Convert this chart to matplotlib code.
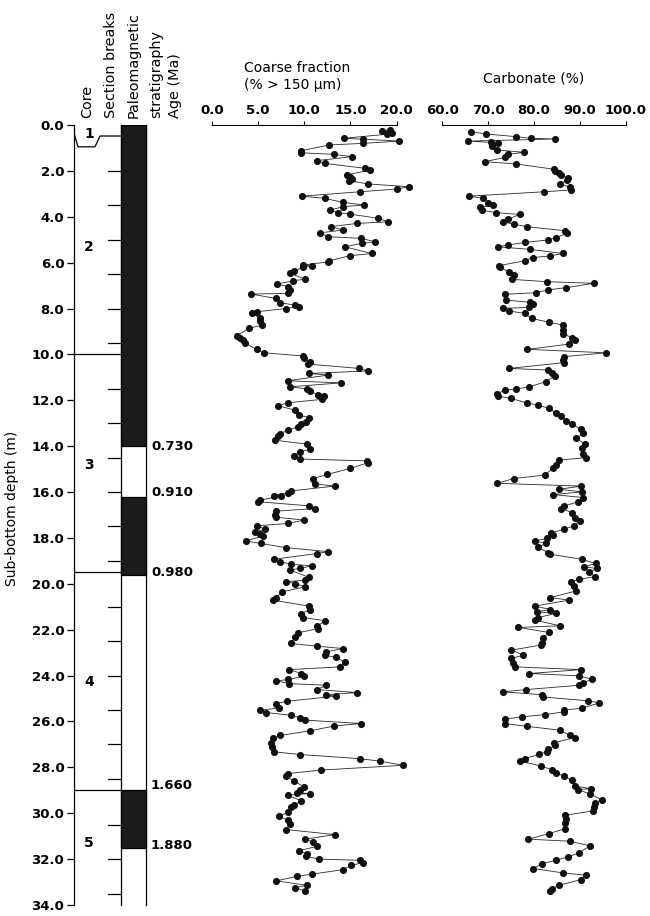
import matplotlib
matplotlib.use("Agg")
import matplotlib.pyplot as plt
from matplotlib.patches import Rectangle

# ---------------- data ----------------
coarse_depth = [0.22,0.28,0.33,0.40,0.58,0.62,0.70,0.80,0.87,1.12,1.21,1.28,1.38,1.55,1.67,1.89,1.96,2.18,2.25,2.35,2.42,2.57,2.69,2.79,2.91,3.10,3.20,3.37,3.49,3.56,3.71,3.82,3.88,4.07,4.22,4.29,4.43,4.58,4.70,4.87,4.94,5.09,5.16,5.31,5.60,5.70,5.92,5.97,6.10,6.15,6.20,6.37,6.47,6.72,6.79,6.93,7.05,7.20,7.34,7.37,7.56,7.75,7.85,7.92,8.00,8.14,8.21,8.43,8.53,8.72,8.87,9.19,9.30,9.37,9.52,9.78,9.93,10.07,10.17,10.32,10.42,10.61,10.72,10.83,10.90,11.15,11.24,11.41,11.51,11.59,11.77,11.82,11.96,12.11,12.24,12.43,12.65,12.75,12.94,13.04,13.15,13.30,13.45,13.56,13.74,13.91,14.14,14.24,14.43,14.56,14.64,14.72,14.97,15.23,15.41,15.65,15.74,15.95,16.03,16.15,16.18,16.35,16.42,16.60,16.72,16.83,17.00,17.10,17.22,17.37,17.47,17.62,17.73,17.83,17.92,18.13,18.24,18.42,18.60,18.68,18.93,19.04,19.14,19.22,19.33,19.40,19.72,19.84,19.91,19.99,20.13,20.35,20.60,20.71,20.97,21.12,21.30,21.47,21.61,21.84,21.95,22.14,22.31,22.60,22.72,22.82,22.96,23.11,23.21,23.40,23.62,23.74,23.91,24.03,24.17,24.23,24.35,24.42,24.61,24.74,24.83,24.90,25.12,25.22,25.41,25.51,25.61,25.73,25.83,25.94,26.09,26.20,26.41,26.61,26.74,26.93,27.10,27.32,27.44,27.62,27.73,27.91,28.12,28.27,28.39,28.59,28.86,29.00,29.11,29.14,29.21,29.46,29.65,29.72,29.94,30.13,30.31,30.45,30.71,30.93,31.13,31.25,31.44,31.64,31.76,31.88,32.00,32.05,32.15,32.27,32.46,32.66,32.75,32.95,33.14,33.24,33.39]
coarse_value = [19.3,18.4,19.5,19.0,14.3,16.4,20.3,16.4,12.7,9.7,9.6,13.2,15.2,11.4,12.2,16.6,17.1,14.6,15.0,15.2,14.8,16.9,21.3,20.0,16.0,9.8,12.2,14.2,16.5,14.2,12.8,13.7,14.9,18.0,19.1,15.7,12.9,14.2,11.7,12.6,16.1,17.7,16.2,14.4,17.3,14.9,12.7,12.6,9.9,10.8,9.9,8.9,8.5,10.1,8.8,7.1,8.2,8.5,8.3,4.3,6.9,7.4,9.0,9.4,8.0,4.9,4.4,5.2,5.2,5.4,4.0,2.7,3.1,3.4,3.6,4.9,5.7,9.9,10.0,10.6,10.4,15.9,16.9,10.5,12.6,8.2,14.0,8.5,10.3,10.6,11.5,12.1,11.9,8.2,7.2,9.0,9.4,10.5,10.2,9.7,9.3,8.3,7.4,7.2,6.8,10.3,10.6,9.5,8.9,9.5,16.8,16.9,15.0,12.5,11.0,11.2,13.3,8.6,8.3,6.7,7.5,5.2,5.0,10.5,11.2,7.0,6.8,7.0,10.0,8.2,4.9,5.8,4.7,5.2,5.5,3.7,5.3,8.0,12.6,11.4,6.7,7.4,8.6,10.8,9.5,8.5,10.5,10.1,8.0,9.0,10.1,7.6,7.0,6.6,10.5,10.6,9.7,9.9,12.3,11.4,11.5,9.3,9.0,8.6,11.4,14.2,12.4,12.3,13.4,14.4,13.9,8.4,9.7,10.0,8.3,7.0,8.4,12.4,11.4,15.7,12.4,13.4,8.1,7.0,7.3,5.2,5.9,8.6,9.5,10.1,16.1,13.2,10.6,7.4,6.6,6.4,6.5,6.7,9.5,16.0,18.2,20.7,11.8,8.2,8.0,8.9,10.0,9.5,9.2,10.6,8.2,9.7,8.9,8.6,8.3,7.3,8.2,8.5,8.0,13.3,10.1,10.9,11.4,9.4,10.3,10.2,11.6,16.0,16.4,15.1,14.2,10.8,9.2,7.0,10.3,9.0,10.1]

carb_depth = [0.29,0.39,0.51,0.58,0.61,0.70,0.76,0.80,0.90,1.09,1.19,1.28,1.41,1.60,1.70,1.93,2.00,2.08,2.18,2.33,2.40,2.57,2.72,2.83,2.91,3.10,3.20,3.39,3.49,3.59,3.71,3.82,3.90,4.10,4.22,4.33,4.43,4.61,4.72,4.91,5.01,5.12,5.23,5.31,5.42,5.60,5.71,5.78,5.92,6.13,6.18,6.42,6.54,6.73,6.83,6.90,7.09,7.19,7.31,7.38,7.63,7.73,7.80,7.95,7.99,8.11,8.21,8.43,8.60,8.72,8.94,9.11,9.27,9.37,9.55,9.78,9.93,10.10,10.25,10.36,10.61,10.68,10.83,10.93,11.19,11.41,11.51,11.55,11.73,11.82,11.92,12.11,12.21,12.35,12.57,12.69,12.89,13.05,13.27,13.42,13.66,13.91,14.10,14.32,14.50,14.61,14.83,14.97,15.26,15.41,15.62,15.74,15.88,15.99,16.11,16.24,16.42,16.61,16.72,16.90,17.15,17.25,17.47,17.63,17.78,17.88,18.02,18.13,18.24,18.39,18.65,18.71,18.93,19.11,19.26,19.33,19.48,19.69,19.80,19.91,20.10,20.31,20.60,20.71,20.97,21.12,21.22,21.29,21.47,21.58,21.83,21.90,22.12,22.38,22.57,22.67,22.89,23.11,23.25,23.47,23.62,23.74,23.91,24.01,24.16,24.32,24.42,24.61,24.71,24.83,24.93,25.10,25.19,25.41,25.51,25.58,25.70,25.80,25.90,26.09,26.21,26.38,26.61,26.70,26.93,27.03,27.22,27.32,27.43,27.62,27.72,27.94,28.10,28.24,28.39,28.56,28.81,28.93,28.97,29.17,29.41,29.55,29.72,29.90,30.09,30.23,30.42,30.67,30.89,31.13,31.22,31.42,31.72,31.90,32.05,32.20,32.41,32.60,32.70,32.89,33.14,33.29,33.39]
carb_value = [66.2,69.5,76.2,79.3,84.6,65.7,70.6,72.2,70.8,72.0,77.8,74.4,73.7,69.3,76.2,84.4,84.7,85.5,86.0,87.5,87.3,85.7,87.9,88.2,82.3,65.9,68.9,70.0,71.1,68.2,68.6,71.7,76.9,74.4,73.3,75.7,78.4,86.8,87.3,84.8,83.1,78.0,74.4,72.2,79.1,86.3,83.5,79.7,78.0,72.4,72.6,74.6,75.6,75.3,82.8,93.1,87.0,83.0,80.4,73.7,73.9,79.1,79.7,79.0,73.3,74.6,78.0,79.5,83.3,86.3,86.3,86.4,88.4,88.9,87.7,78.6,95.7,86.5,86.3,86.5,74.6,83.0,83.9,84.6,82.6,79.0,76.1,73.7,71.9,72.2,75.0,78.4,80.9,83.3,84.9,86.0,87.1,88.4,90.3,90.8,89.3,91.1,90.6,90.8,91.3,85.5,84.8,84.1,82.4,75.6,72.0,90.3,85.5,90.5,84.2,90.8,89.7,86.5,86.0,88.4,88.9,90.0,88.7,86.5,83.7,84.1,82.9,80.2,82.6,80.9,83.1,83.6,90.4,93.5,91.0,93.7,92.1,93.3,89.9,88.2,88.7,89.2,83.6,87.7,80.2,83.6,80.6,84.8,80.9,80.2,85.7,76.6,83.3,82.0,81.7,81.5,75.1,77.7,75.1,75.5,75.9,90.3,79.0,89.9,92.6,90.8,89.9,78.3,73.2,81.7,81.9,91.9,94.3,90.6,86.5,86.5,82.4,77.3,73.7,73.7,78.4,85.7,87.9,88.9,84.4,84.6,83.1,82.8,81.2,78.0,76.9,81.5,83.9,84.9,86.5,88.4,88.9,92.4,89.7,92.3,94.8,93.3,93.1,92.8,86.8,87.0,86.8,86.8,83.3,78.8,87.9,92.2,89.9,87.5,84.9,81.7,79.9,86.3,91.3,90.3,85.5,83.9,83.6]

depth_ticks = [0, 2, 4, 6, 8, 10, 12, 14, 16, 18, 20, 22, 24, 26, 28, 30, 32, 34]
coarse_ticks = [0, 5, 10, 15, 20]
carb_ticks = [60, 70, 80, 90, 100]

core_names = ["1", "2", "3", "4", "5"]
core_name_depths = [0.4, 5.3, 14.8, 24.3, 31.3]
core_bottoms = [10.0, 19.5, 29.0]
section_breaks = [2.0, 3.5, 5.0, 6.5, 8.0, 9.5, 11.5, 13.0, 14.5, 16.0, 17.5, 19.0,
                  21.0, 22.5, 24.0, 25.5, 27.0, 28.5, 30.5, 32.0, 33.5]
normal_tops = [0.0, 16.2, 29.0]
normal_bottoms = [14.0, 19.6, 31.5]
age_labels = ["0.730", "0.910", "0.980", "1.660", "1.880"]
age_depths = [14.0, 16.0, 19.5, 28.8, 31.4]

# ---------------- layout helpers ----------------
W, H = 650, 916
fig = plt.figure(figsize=(W / 100, H / 100), dpi=100)
Y_TOP, Y_BOT = 125, 905


def ax_rect(x0, x1):
    return [x0 / W, 1 - Y_BOT / H, (x1 - x0) / W, (Y_BOT - Y_TOP) / H]


def fx(x):
    return x / W


def fy(y):
    return 1 - y / H


FONT = "DejaVu Sans"
TICKFS = 9.5

# ---------------- stratigraphic column ----------------
ax0 = fig.add_axes(ax_rect(74, 150))
ax0.set_xlim(74, 150)
ax0.set_ylim(34, 0)
for s in ["top", "right", "bottom"]:
    ax0.spines[s].set_visible(False)
ax0.spines["left"].set_linewidth(0.9)
ax0.set_xticks([])
ax0.set_yticks(depth_ticks)
ax0.set_yticklabels([f"{t:.1f}" for t in depth_ticks], fontsize=TICKFS,
                    fontweight="bold", family=FONT)
ax0.tick_params(axis="y", direction="out", length=5, width=0.9, pad=2)

COL_L, COL_R = 121, 146
# paleomagnetic column outline and normal polarity blocks
ax0.plot([COL_L, COL_L], [0, 34], color="black", lw=0.9, clip_on=False)
ax0.plot([COL_R, COL_R], [0, 34], color="black", lw=0.9, clip_on=False)
for t, b in zip(normal_tops, normal_bottoms):
    ax0.add_patch(Rectangle((COL_L, t), COL_R - COL_L, b - t,
                            facecolor="#1c1c1c", edgecolor="black", lw=0.9))
# section break ticks
for d in section_breaks:
    ax0.plot([108, COL_L], [d, d], color="black", lw=0.9)
# core boundaries
for d in core_bottoms:
    ax0.plot([74, COL_L], [d, d], color="black", lw=0.9)
# core 1 bottom (stepped)
ax0.plot([74, 78, 95, 100, COL_L], [0.35, 0.95, 0.95, 0.48, 0.48],
         color="black", lw=0.9)
for name, d in zip(core_names, core_name_depths):
    ax0.text(89, d, name, ha="center", va="center", fontsize=10,
             fontweight="bold", family=FONT)
for lab, d in zip(age_labels, age_depths):
    ax0.text(151, d, lab, ha="left", va="center", fontsize=TICKFS,
             fontweight="bold", family=FONT, clip_on=False)


# ---------------- data panels ----------------
def panel(x0, x1, lim, ticks, depth, vals):
    ax = fig.add_axes(ax_rect(x0, x1))
    ax.set_xlim(*lim)
    ax.set_ylim(34, 0)
    for s in ["left", "right", "bottom"]:
        ax.spines[s].set_visible(False)
    ax.spines["top"].set_linewidth(0.8)
    ax.xaxis.set_ticks_position("top")
    ax.set_xticks(ticks)
    ax.set_xticklabels([f"{t:.1f}" for t in ticks], fontsize=TICKFS,
                       fontweight="bold", family=FONT)
    ax.tick_params(axis="x", direction="out", length=3, width=0.8, pad=3)
    ax.set_yticks([])
    ax.plot(vals, depth, color="#2a2a2a", lw=0.6, marker="o", markersize=4.1,
            markerfacecolor="#111111", markeredgecolor="#111111", clip_on=False)
    ax.patch.set_alpha(0)
    return ax


ax1 = panel(211.7, 396.7, (0, 20), coarse_ticks, coarse_depth, coarse_value)
ax2 = panel(442.3, 625.5, (60, 100), carb_ticks, carb_depth, carb_value)

# ---------------- headers ----------------
hdr = dict(rotation=90, ha="center", va="bottom", fontsize=10.4, family=FONT)
fig.text(fx(87), fy(118), "Core", **hdr)
fig.text(fx(111), fy(118), "Section breaks", **hdr)
fig.text(fx(134), fy(118), "Paleomagnetic", **hdr)
fig.text(fx(156), fy(118), "stratigraphy", **hdr)
fig.text(fx(175), fy(118), "Age (Ma)", **hdr)

fig.text(fx(244), fy(61), "Coarse fraction\n(% > 150 μm)", ha="left", va="top",
         fontsize=10, family=FONT, linespacing=1.25)
fig.text(fx(534), fy(78), "Carbonate (%)", ha="center", va="center",
         fontsize=10, family=FONT)
fig.text(fx(12), fy(508), "Sub-bottom depth (m)", rotation=90, ha="center",
         va="center", fontsize=10, family=FONT)

fig.savefig("out.png", dpi=100)
